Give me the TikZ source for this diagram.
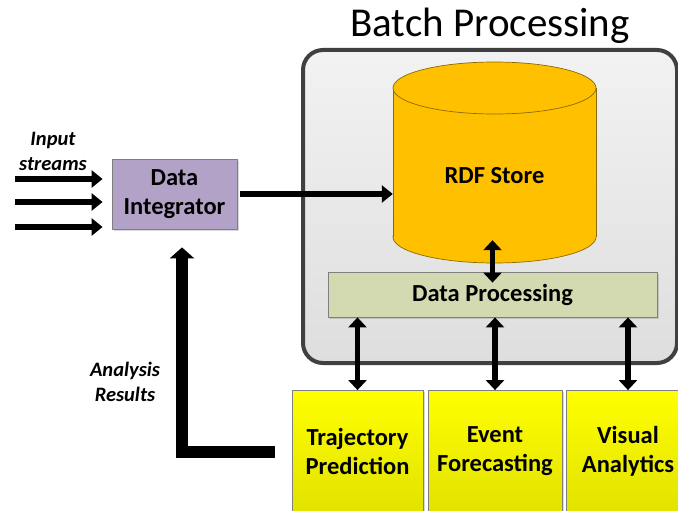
\documentclass[tikz,border=0pt]{standalone}
\usepackage{fontspec}
\setmainfont{Carlito}
\usetikzlibrary{arrows.meta,shadows}
\definecolor{outeredge}{HTML}{404040}
\definecolor{outertop}{HTML}{F2F2F2}
\definecolor{outerbot}{HTML}{DEDEDE}
\definecolor{cylfill}{HTML}{FFC000}
\definecolor{cyledge}{HTML}{8C6A00}
\definecolor{dpfill}{HTML}{D3DAB2}
\definecolor{difill}{HTML}{B3A2C7}
\definecolor{boxedge}{HTML}{7F7F7F}
\definecolor{yeltop}{HTML}{FFFF00}
\definecolor{yelbot}{HTML}{E2E200}
\begin{document}
\begin{tikzpicture}[x=1pt,y=-1pt,
  lbl/.style={font=\fontsize{24.5}{29}\selectfont\bfseries, align=center},
  note/.style={font=\fontsize{20.5}{25}\selectfont\bfseries\itshape, align=center},
  box/.style={draw=boxedge, line width=0.8pt, inner sep=0pt,
    drop shadow={shadow xshift=1.5pt, shadow yshift=-1.5pt, opacity=0.3}},
  ybox/.style={box, lbl, top color=yeltop, bottom color=yelbot, minimum height=122pt},
  arr/.style={line width=5.5pt, -{Triangle[width=17pt,length=11pt]}},
  dbl/.style={line width=5.5pt, {Triangle[width=18pt,length=10pt]}-{Triangle[width=18pt,length=10pt]}},
  bigarr/.style={line width=12pt, line join=miter, -{Triangle[width=24pt,length=11pt]}}
]
\useasboundingbox (0,0) rectangle (678,511);
\fill[white] (0,0) rectangle (678,511);
\clip (0,0) rectangle (678,511);

% title
\node[font=\fontsize{41}{48}\selectfont, anchor=base] (title) at (490,37) {Batch Processing};

% batch container
\node[draw=outeredge, line width=4pt, rounded corners=20pt,
      top color=outertop, bottom color=outerbot,
      minimum width=374pt, minimum height=313pt, inner sep=0pt] (batch) at (490,206.5) {};

% cylinder (RDF store)
\filldraw[fill=cylfill, draw=cyledge, line width=0.7pt] (494.5,237) ellipse [x radius=101.5, y radius=26];
\fill[cylfill] (393,88) rectangle (596,237);
\draw[cyledge, line width=0.7pt] (393,88) -- (393,237) (596,88) -- (596,237);
\filldraw[fill=cylfill, draw=cyledge, line width=0.7pt] (494.5,88) ellipse [x radius=101.5, y radius=26];
\node[lbl, minimum width=203pt, minimum height=175pt, inner sep=0pt] (rdf) at (494.5,175.5) {RDF Store};

% data processing
\node[box, lbl, fill=dpfill, minimum width=329pt, minimum height=45pt] (dp) at (492.5,294.5) {Data Processing};

% data integrator
\node[box, lbl, fill=difill, minimum width=125pt, minimum height=70pt] (di) at (174.5,194) {Data\\Integrator};

% analysis boxes
\node[ybox, minimum width=131pt] (tp) at (357.5,451.5) {Trajectory\\Prediction};
\node[ybox, minimum width=134pt] (ef) at (495,451.5) {Event\\Forecasting};
\node[ybox, minimum width=124pt] (va) at (628,451.5) {Visual\\Analytics};

% labels
\node[note] (inlbl) at (53,151) {Input\\streams};
\node[note] (arlbl) at (125,382) {Analysis\\Results};

% input streams
\coordinate (in1) at (15,179);
\coordinate (in2) at (15,202);
\coordinate (in3) at (15,227);
\foreach \c in {in1,in2,in3}
  \draw[arr, shorten >=9pt] (\c) -- (\c -| di.west);

% integrator -> RDF store
\draw[arr, shorten <=3pt] (di.east) -- (di.east -| rdf.west);

% RDF <-> data processing
\draw[dbl] ([xshift=-2pt, yshift=23pt]rdf.south) -- ([xshift=-2pt, yshift=-11pt]dp.north -| rdf.south);

% data processing <-> analysis boxes
\draw[dbl] (tp.north) -- (tp.north |- dp.south);
\draw[dbl] (ef.north) -- (ef.north |- dp.south);
\draw[dbl] (va.north) -- (va.north |- dp.south);

% analysis results back to integrator
\coordinate (bend) at (182,452);
\draw[bigarr, shorten <=17pt, shorten >=18pt] (tp.west |- bend) -- (bend) -- (bend |- di.south);
\end{tikzpicture}
\end{document}
